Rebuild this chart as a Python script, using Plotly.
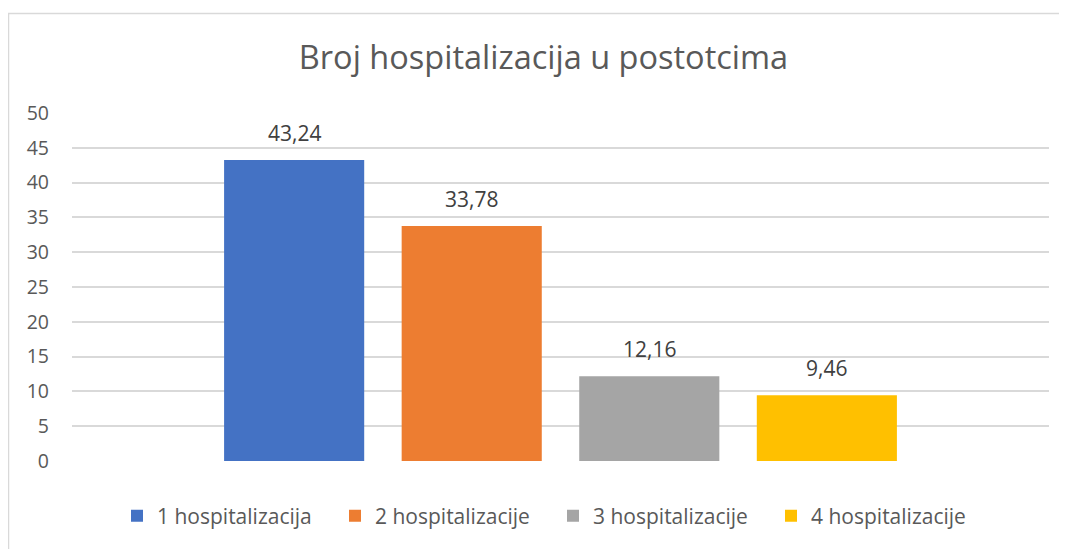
import plotly.graph_objects as go

categories = ["Broj hospitalizacija"]
series_names = ["1 hospitalizacija", "2 hospitalizacije", "3 hospitalizacije", "4 hospitalizacije"]
series_values = [43.24, 33.78, 12.16, 9.46]
colors = ["#4472C4", "#ED7D31", "#A5A5A5", "#FFC000"]
tick_vals = [0, 5, 10, 15, 20, 25, 30, 35, 40, 45, 50]

# page body has an 8px margin, so figure coordinates = window coordinates - 8
W, H = 1059, 541
PL, PR, PT, PB = 64, 1041, 105, 453  # plot area in figure coords
PW, PH = PR - PL, PB - PT

BARGAP, GROUPGAP = 0.273, 0.211
n = len(series_values)
slot = (1 - BARGAP) / n

fig = go.Figure()
annotations = []
for i, (name, val, col) in enumerate(zip(series_names, series_values, colors)):
    fig.add_trace(go.Bar(x=[0], y=[val], name=name, marker_color=col,
                         marker_line_width=0))
    annotations.append(dict(
        x=(i - (n - 1) / 2) * slot, y=val, xref="x", yref="y",
        text=f"{val:.2f}".replace(".", ","), showarrow=False,
        yanchor="bottom", yshift=11,
        font=dict(size=21, color="#404040")))

fig.update_layout(
    width=W, height=H,
    paper_bgcolor="white", plot_bgcolor="white",
    separators=",.",
    font=dict(family="Open Sans, Liberation Sans, sans-serif", color="#595959"),
    title=dict(text="Broj hospitalizacija u postotcima", x=(543.5 - 8) / W, xanchor="center",
               y=1 - 50 / H, yanchor="middle",
               font=dict(size=32.5, color="#595959")),
    margin=dict(l=PL, r=W - PR, t=PT, b=H - PB),
    barmode="group", bargap=BARGAP, bargroupgap=GROUPGAP,
    showlegend=True,
    legend=dict(orientation="h", x=(553 - 8 - PL) / PW, xanchor="center",
                y=-(508 - PB) / PH, yanchor="middle",
                font=dict(size=21, color="#595959"),
                itemwidth=30, traceorder="normal",
                entrywidth=173, entrywidthmode="pixels"),
    xaxis=dict(range=[-0.5, 0.5], showticklabels=False, showgrid=False,
               zeroline=False, showline=False),
    yaxis=dict(range=[0, 50], tickvals=tick_vals, showgrid=True, gridcolor="#D9D9D9",
               gridwidth=1.5, zeroline=False, showline=False, ticks="",
               tickfont=dict(size=19.5, color="#595959"), ticklabelstandoff=22),
    annotations=annotations,
    shapes=[dict(type="rect", xref="paper", yref="paper",
                 x0=-(PL - 0.5) / PW, x1=(1058 - PL) / PW,
                 y0=-(545 - PB) / PH, y1=(PB - 5.5) / PH,
                 line=dict(color="#D9D9D9", width=1.5))],
)
fig.write_html("out.html")
